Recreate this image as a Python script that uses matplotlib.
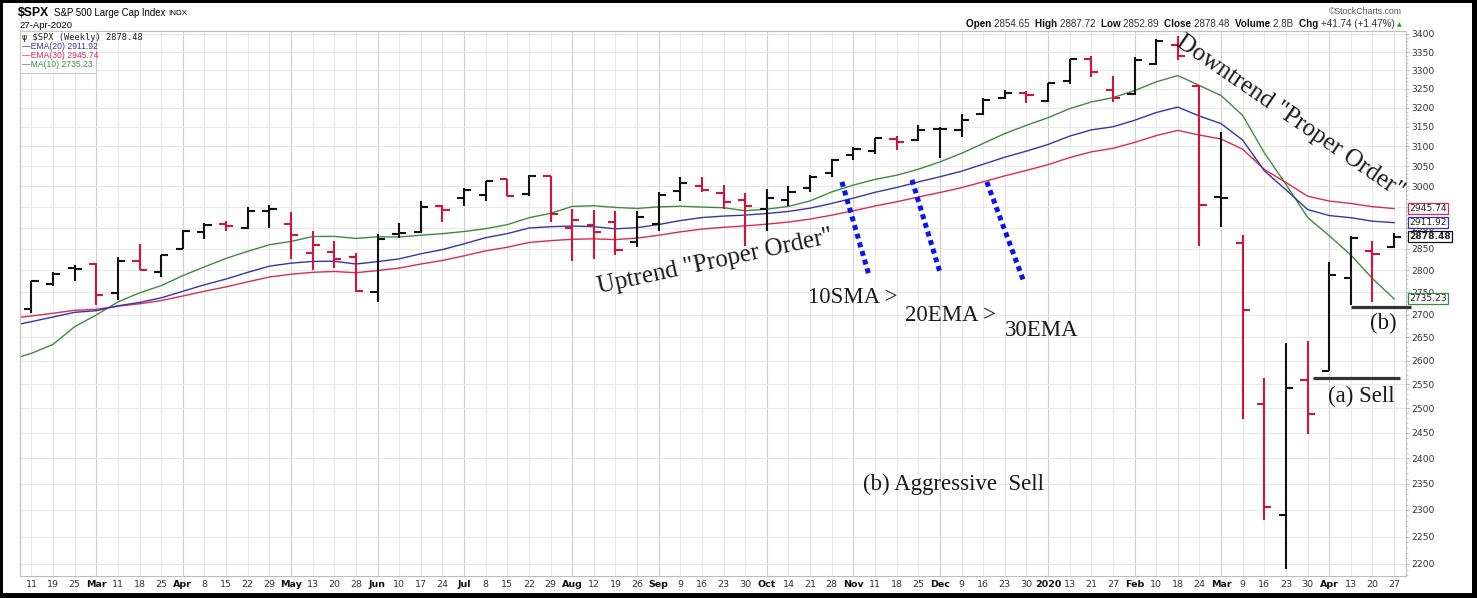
import matplotlib
matplotlib.use('Agg')
import matplotlib.pyplot as plt
from matplotlib.patches import Rectangle
from matplotlib.ticker import FixedLocator, NullFormatter
import numpy as np

# weekly $SPX bars, Feb-2019 .. Apr-2020 --------------------------------------
week_labels = ['11', '19', '25', 'Mar', '11', '18', '25', 'Apr', '8', '15', '22', '29', 'May', '13', '20', '28',
               'Jun', '10', '17', '24', 'Jul', '8', '15', '22', '29', 'Aug', '12', '19', '26', 'Sep', '9', '16',
               '23', '30', 'Oct', '14', '21', '28', 'Nov', '11', '18', '25', 'Dec', '9', '16', '23', '30', '2020',
               '13', '21', '27', 'Feb', '10', '18', '24', 'Mar', '9', '16', '23', '30', 'Apr', '13', '20', '27']

opens = [2712.40, 2769.28, 2804.35, 2814.37, 2747.61, 2822.61, 2796.01, 2848.63, 2888.46, 2908.32,
         2898.78, 2940.58, 2908.89, 2840.19, 2841.94, 2830.03, 2751.53, 2885.83, 2889.75, 2951.42,
         2971.41, 2979.77, 3017.80, 2981.93, 3024.47, 2898.07, 2907.07, 2913.48, 2866.70, 2909.01,
         2988.43, 3001.50, 2983.50, 2967.07, 2944.23, 2965.81, 2996.48, 3032.12, 3078.96, 3089.28,
         3117.91, 3117.44, 3143.85, 3141.86, 3183.63, 3226.05, 3240.09, 3217.55, 3271.13, 3330.02,
         3247.16, 3235.66, 3318.28, 3369.04, 3257.61, 2974.28, 2863.89, 2508.59, 2290.71, 2558.98,
         2578.28, 2782.46, 2845.62, 2854.65]
highs = [2775.66, 2795.16, 2813.49, 2816.88, 2830.73, 2860.31, 2836.03, 2893.42, 2910.53, 2916.06,
         2949.52, 2954.13, 2937.32, 2892.15, 2868.88, 2840.51, 2884.97, 2910.61, 2964.15, 2954.92,
         2995.84, 3013.92, 3017.80, 3027.98, 3025.61, 2944.23, 2943.31, 2939.08, 2940.43, 2985.86,
         3021.99, 3022.62, 3002.43, 2983.85, 2993.28, 3000.42, 3027.39, 3066.95, 3097.77, 3120.46,
         3127.64, 3154.26, 3150.60, 3182.68, 3225.65, 3247.93, 3244.67, 3267.07, 3329.88, 3337.77,
         3285.91, 3337.58, 3385.09, 3393.52, 3259.81, 3136.72, 2882.59, 2562.98, 2637.01, 2641.39,
         2818.57, 2879.22, 2868.98, 2887.72]
lows = [2703.79, 2764.55, 2775.13, 2722.27, 2732.53, 2800.48, 2785.02, 2848.63, 2873.33, 2891.90,
        2896.00, 2898.42, 2825.39, 2801.43, 2805.49, 2750.52, 2728.81, 2874.68, 2887.30, 2912.66,
        2952.22, 2963.44, 2975.31, 2976.31, 2914.11, 2822.12, 2825.71, 2834.97, 2855.00, 2891.85,
        2964.15, 2985.00, 2945.53, 2855.94, 2892.66, 2952.00, 2985.00, 3023.19, 3066.00, 3080.00,
        3091.41, 3114.14, 3070.33, 3125.00, 3180.00, 3223.00, 3212.03, 3214.64, 3263.00, 3280.69,
        3214.68, 3235.00, 3315.00, 3328.45, 2855.84, 2901.54, 2478.86, 2280.52, 2191.86, 2447.49,
        2578.28, 2721.17, 2727.10, 2852.89]
closes = [2775.60, 2792.67, 2803.69, 2743.07, 2822.48, 2800.71, 2834.40, 2892.74, 2907.41, 2905.03,
          2939.88, 2945.64, 2881.40, 2859.53, 2826.06, 2752.06, 2873.34, 2886.98, 2950.46, 2941.76,
          2990.41, 3013.77, 2976.61, 3025.86, 2932.05, 2918.65, 2888.68, 2847.11, 2926.46, 2978.71,
          3007.39, 2992.07, 2961.79, 2952.01, 2970.27, 2986.20, 3022.55, 3066.91, 3093.08, 3120.46,
          3110.29, 3140.98, 3145.91, 3168.80, 3221.22, 3240.02, 3234.85, 3265.35, 3329.62, 3295.47,
          3225.52, 3327.71, 3380.16, 3337.75, 2954.22, 2972.37, 2711.02, 2304.92, 2541.47, 2488.65,
          2789.82, 2874.56, 2836.74, 2878.48]
prev_close = 2707.88  # week before the first bar
volume = '2.8B'

# moving averages (first value = the week before the first bar) -------------
ma10 = [2601.35, 2615.60, 2634.87, 2673.58, 2699.31, 2728.37, 2748.81, 2765.18, 2787.98, 2808.07, 2827.78,
        2844.21, 2859.51, 2867.28, 2878.92, 2879.28, 2874.42, 2878.31, 2877.73, 2882.04, 2885.71,
        2890.76, 2897.58, 2907.10, 2923.73, 2934.33, 2950.99, 2952.52, 2948.54, 2946.14, 2949.83,
        2951.53, 2949.36, 2947.88, 2940.49, 2944.31, 2951.07, 2964.46, 2986.44, 3003.10, 3017.27,
        3027.56, 3042.45, 3060.87, 3082.55, 3107.64, 3133.02, 3154.25, 3174.10, 3197.75, 3215.25,
        3226.77, 3245.45, 3268.87, 3285.77, 3259.07, 3232.30, 3179.92, 3083.88, 3005.06, 2924.38,
        2880.81, 2835.49, 2781.15, 2735.23]
ema20 = [2674.90, 2684.50, 2694.80, 2705.17, 2708.78, 2719.61, 2727.33, 2737.53, 2752.31, 2767.08, 2780.22,
         2795.43, 2809.74, 2816.56, 2820.65, 2821.17, 2814.59, 2820.19, 2826.55, 2838.35, 2848.20,
         2861.74, 2876.22, 2885.78, 2899.12, 2902.26, 2903.82, 2902.38, 2897.12, 2899.91, 2907.41,
         2916.93, 2924.09, 2927.68, 2930.00, 2933.84, 2938.83, 2946.80, 2958.24, 2971.08, 2985.31,
         2997.21, 3010.90, 3023.76, 3037.57, 3055.06, 3072.68, 3088.12, 3105.00, 3126.39, 3142.49,
         3150.40, 3167.29, 3187.56, 3201.86, 3178.28, 3158.67, 3116.04, 3038.79, 2991.43, 2943.55,
         2928.91, 2923.73, 2915.45, 2911.92]
ema30 = [2691.60, 2697.00, 2703.17, 2709.66, 2711.82, 2718.96, 2724.23, 2731.34, 2741.75, 2752.44, 2762.28,
         2773.74, 2784.83, 2791.06, 2795.48, 2797.45, 2794.52, 2799.61, 2805.25, 2814.62, 2822.82,
         2833.63, 2845.25, 2853.72, 2864.83, 2869.17, 2872.36, 2873.41, 2871.71, 2875.24, 2881.92,
         2890.01, 2896.59, 2900.80, 2904.10, 2908.37, 2913.39, 2920.43, 2929.88, 2940.41, 2952.03,
         2962.24, 2973.77, 2984.88, 2996.75, 3011.23, 3025.99, 3039.46, 3054.03, 3071.81, 3086.24,
         3095.23, 3110.23, 3127.65, 3141.20, 3129.14, 3119.03, 3092.71, 3041.88, 3009.60, 2975.99,
         2963.98, 2958.21, 2950.37, 2945.74]

price_ticks = list(range(2200, 3401, 50))

# colours -----------------------------------------------------------------------
c_up = '#111111'
c_down = '#d2143c'
c_ema20 = '#3535a8'
c_ema30 = '#dc2a52'
c_ma10 = '#3d8c3d'

W, H = 1477, 598


def fx(px):
    return px / W


def fy(py):
    return 1 - py / H


fig = plt.figure(figsize=(W / 100, H / 100), dpi=100)
fig.patch.set_facecolor('black')
fig.add_artist(Rectangle((fx(3), fy(593)), fx(1472) - fx(3), fy(3) - fy(593),
                         transform=fig.transFigure, facecolor='white', edgecolor='none', zorder=0))

ax = fig.add_axes([fx(20), fy(575.5), fx(1406) - fx(20), fy(31) - fy(575.5)])
ax.set_yscale('log')
ax.set_xlim(-0.53, 63.55)
ax.set_ylim(2179.3, 3408.3)

x = np.arange(len(closes))
x_ma = np.arange(-1, len(closes))
prevs = np.r_[prev_close, closes[:-1]]
cols = [c_down if c < p else c_up for c, p in zip(closes, prevs)]

# grid ----------------------------------------------------------------------------
for i, lab in zip(x, week_labels):
    month = not lab.isdigit() or lab == '2020'
    ax.axvline(i, color='#cdcdcd' if month else '#e9e9e9', lw=0.8, zorder=0)
ax.yaxis.set_major_locator(FixedLocator(price_ticks))
ax.yaxis.set_minor_locator(FixedLocator(range(2180, 3410, 10)))
ax.yaxis.set_minor_formatter(NullFormatter())
# 2950 sits under the EMA(30) tag, so it gets no label
ax.set_yticklabels(['' if p == 2950 else str(p) for p in price_ticks])
ax.grid(axis='y', which='major', color='#e9e9e9', lw=0.8, zorder=0)
ax.yaxis.tick_right()
ax.tick_params(axis='y', which='major', length=2, width=0.6, color='#aaaaaa', pad=2,
               labelsize=6.6, labelcolor='#333333')
ax.tick_params(axis='y', which='minor', length=1.2, width=0.5, color='#bbbbbb')
ax.set_xticks(x)
ax.set_xticklabels(week_labels)
ax.tick_params(axis='x', length=0, pad=3, labelsize=6.8, labelcolor='#333333')
for lab in ax.get_xticklabels():
    if not lab.get_text().isdigit() or lab.get_text() == '2020':
        lab.set_fontweight('bold')
        lab.set_color('#111111')
for s in ax.spines.values():
    s.set_color('#bdbdbd')
    s.set_linewidth(0.8)

# moving averages -------------------------------------------------------------------
ax.plot(x_ma, ma10, color=c_ma10, lw=1.0, zorder=2)
ax.plot(x_ma, ema30, color=c_ema30, lw=1.0, zorder=2)
ax.plot(x_ma, ema20, color=c_ema20, lw=1.0, zorder=2)

# OHLC bars -----------------------------------------------------------------------
tick = 0.33
ax.vlines(x, lows, highs, colors=cols, lw=1.5, zorder=3)
ax.hlines(opens, x - tick, x, colors=cols, lw=1.5, zorder=3)
ax.hlines(closes, x, x + tick, colors=cols, lw=1.5, zorder=3)

# last value tags on the price axis --------------------------------------------------
for val, col, bold in [(ema30[-1], c_ema30, False), (ema20[-1], c_ema20, False),
                       (closes[-1], '#111111', True), (ma10[-1], c_ma10, False)]:
    ax.annotate(f'{val:.2f}', xy=(1, val), xycoords=('axes fraction', 'data'), xytext=(2.5, 0),
                textcoords='offset points', va='center', ha='left', fontsize=6.6,
                fontweight='bold' if bold else 'normal', color='#222222', annotation_clip=False,
                bbox=dict(boxstyle='square,pad=0.12', fc='white', ec=col, lw=0.9), zorder=6)

# legend box --------------------------------------------------------------------------
ax.add_patch(Rectangle((0, 1), 0.0545, -0.078, transform=ax.transAxes, facecolor='white',
                       edgecolor='#c8c8c8', lw=0.8, zorder=5))
ax.text(0.0015, 0.988, f'\u03c8 $SPX (Weekly) {closes[-1]:.2f}', transform=ax.transAxes,
        fontsize=6.3, family='DejaVu Sans Mono', color='#222222', va='center', zorder=6)
for k, (name, val, col) in enumerate([('EMA(20)', ema20[-1], c_ema20), ('EMA(30)', ema30[-1], c_ema30),
                                      ('MA(10)', ma10[-1], c_ma10)]):
    ax.text(0.0015, 0.971 - k * 0.0165, f'\u2014{name} {val:.2f}', transform=ax.transAxes,
            fontsize=6.2, family='Liberation Sans', color=col, va='center', zorder=6)

# header --------------------------------------------------------------------------
fig.text(fx(18), fy(13), '$SPX', fontsize=8.8, fontweight='bold', family='Liberation Sans', va='center')
fig.text(fx(54), fy(13), 'S&P 500 Large Cap Index', fontsize=6.9, family='Liberation Sans', va='center')
fig.text(fx(168), fy(13.5), 'INDX', fontsize=5.8, family='Liberation Sans', va='center')
fig.text(fx(19), fy(25), '27-Apr-2020', fontsize=6.8, family='Liberation Sans', va='center')
fig.text(fx(1402), fy(11), '\u00a9StockCharts.com', fontsize=6.3, family='Liberation Sans',
         color='#555555', va='center', ha='right')

chg = closes[-1] - closes[-2]
parts = [('Open ', True), (f'{opens[-1]:.2f}  ', False), ('High ', True), (f'{highs[-1]:.2f}  ', False),
         ('Low ', True), (f'{lows[-1]:.2f}  ', False), ('Close ', True), (f'{closes[-1]:.2f}  ', False),
         ('Volume ', True), (f'{volume}  ', False), ('Chg ', True),
         (f'{chg:+.2f} ({chg / closes[-2] * 100:+.2f}%) ', False)]
t = ax.annotate(parts[0][0], xy=(fx(966), fy(27)), xycoords='figure fraction', fontsize=7.1,
                fontweight='bold', family='Liberation Sans', va='baseline', annotation_clip=False)
for s, b in parts[1:]:
    t = ax.annotate(s, xy=(1, 0), xycoords=t, fontsize=7.1, fontweight='bold' if b else 'normal',
                    family='Liberation Sans', color='#111111' if b else '#333333', va='bottom',
                    annotation_clip=False)
ax.annotate('\u25b2', xy=(1, 0.15), xycoords=t, fontsize=4.5, color='#2e9a2e', va='bottom',
            annotation_clip=False)

# hand drawn notes --------------------------------------------------------------------
serif = 'Liberation Serif'
ax.text(31.6, 2819, 'Uptrend "Proper Order"', fontsize=18, family=serif, color='#1a1a1a',
        rotation=12.2, ha='center', va='center', rotation_mode='anchor', zorder=7)
ax.text(58.2, 3176, 'Downtrend "Proper Order"', fontsize=18, family=serif, color='#1a1a1a',
        rotation=-34.5, ha='center', va='center', rotation_mode='anchor', zorder=7)
ax.text(35.9, 2739, '10SMA >', fontsize=16.5, family=serif, color='#1a1a1a', va='center', zorder=7)
ax.text(40.4, 2697, '20EMA >', fontsize=16.5, family=serif, color='#1a1a1a', va='center', zorder=7)
ax.text(45.0, 2666, '30EMA', fontsize=16.5, family=serif, color='#1a1a1a', va='center', zorder=7)
ax.text(38.45, 2349, '(b) Aggressive  Sell', fontsize=16.5, family=serif, color='#1a1a1a',
        va='center', zorder=7)
ax.text(59.95, 2525, '(a) Sell', fontsize=16.5, family=serif, color='#1a1a1a', va='center', zorder=7)
ax.text(61.9, 2681, '(b)', fontsize=16.5, family=serif, color='#1a1a1a', va='center', zorder=7)

# sell levels
ax.plot([59.25, 63.27], [2564, 2564], color='#333333', lw=2.3, solid_capstyle='butt', zorder=4)
ax.plot([61.0, 63.8], [2716, 2716], color='#333333', lw=2.3, solid_capstyle='butt', zorder=4,
        clip_on=False)

# dotted "proper order" markers
for (x0, y0), (x1, y1) in [((37.47, 3011), (38.72, 2789)), ((40.71, 3016), (42.0, 2796)),
                           ((44.17, 3011), (45.89, 2773))]:
    ax.plot([x0, x1], [y0, y1], color='#0a14f0', lw=3.6, linestyle=(0, (1, 0.8)),
            dash_capstyle='butt', zorder=4)

fig.savefig('out.png', dpi=100, facecolor=fig.get_facecolor())
